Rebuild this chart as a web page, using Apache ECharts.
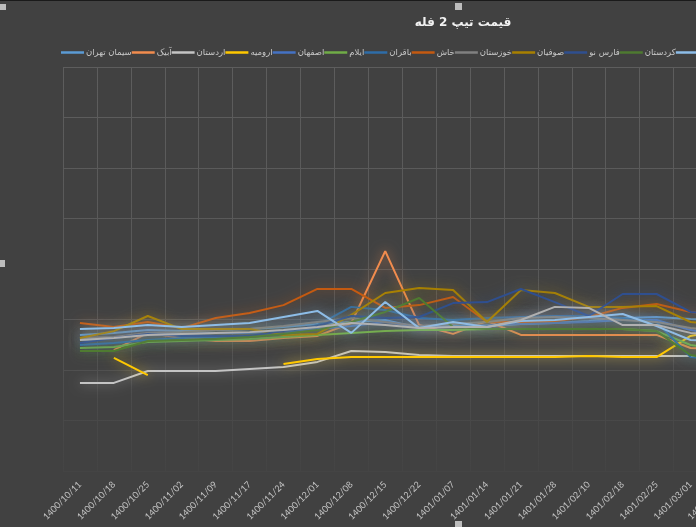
<!DOCTYPE html>
<html><head><meta charset="utf-8">
<script src="https://cdn.jsdelivr.net/npm/echarts@6.0.0/dist/echarts.min.js"></script>
<style>html,body{margin:0;padding:0;background:#414141;overflow:hidden}#c{width:696px;height:527px}</style>
</head><body><div id="c"></div><script>
const categories = ['1400/10/11','1400/10/18','1400/10/25','1400/11/02','1400/11/09','1400/11/17','1400/11/24','1400/12/01','1400/12/08','1400/12/15','1400/12/22','1401/01/07','1401/01/14','1401/01/21','1401/01/28','1401/02/10','1401/02/18','1401/02/25','1401/03/01','1401/03/08'];
const tehran    = [539,547,558,554,558,562,570,582,590,598,566,574,574,582,586,594,606,610,602,598];
const abyek     = [null,479,547,527,515,515,527,535,586,871,578,543,594,539,539,539,539,539,487,479];
const ardestan  = [349,349,396,396,396,404,412,432,475,471,459,455,455,455,455,455,455,455,455,455];
const urmia     = [null,448,380,null,null,null,424,444,451,451,451,451,451,451,451,455,451,451,535,558];
const isfahan   = [519,527,543,543,547,547,554,562,574,590,570,570,578,582,586,590,598,598,558,539];
const ilam      = [487,491,511,515,519,523,531,539,547,554,558,558,562,562,562,562,562,554,499,479];
const bagheran  = [499,507,519,527,531,535,543,578,650,638,606,598,606,610,614,614,606,590,451,440];
const khash     = [586,570,590,566,606,626,657,721,721,646,657,689,590,590,594,610,646,661,630,618];
const khuzestan = [527,531,547,550,558,562,574,590,606,590,574,582,590,606,610,606,598,590,566,558];
const sufian    = [527,554,614,562,562,562,539,543,618,705,725,717,590,717,705,650,650,653,590,578];
const farsNo    = [507,527,543,535,535,535,554,574,614,606,610,665,669,721,669,614,701,701,630,618];
const kurdistan = [475,475,515,519,523,531,543,558,590,630,685,570,562,562,562,562,562,554,459,440];
const series13  = [562,566,578,570,578,586,610,634,547,669,566,590,570,594,598,610,622,574,519,511];
const series14  = [519,527,539,543,547,550,558,570,586,578,566,570,570,598,650,646,578,578,547,535];

const seriesDefs = [
  ['سیمان تهران', tehran, '#5B9BD5'],
  ['آبیک', abyek, '#F28C4E'],
  ['اردستان', ardestan, '#C4C4C4'],
  ['ارومیه', urmia, '#FFC800'],
  ['اصفهان', isfahan, '#4472C4'],
  ['ایلام', ilam, '#70AD47'],
  ['باقران', bagheran, '#2E6DA8'],
  ['خاش', khash, '#C55A11'],
  ['خوزستان', khuzestan, '#808080'],
  ['صوفیان', sufian, '#A88000'],
  ['فارس نو', farsNo, '#2F4F8F'],
  ['کردستان', kurdistan, '#4E7A30'],
  ['سری ۱۳', series13, '#8DBDE8'],
  ['سری ۱۴', series14, '#B0B0B0']
];
function rgba(hex, a){const n=parseInt(hex.slice(1),16);return 'rgba('+(n>>16&255)+','+(n>>8&255)+','+(n&255)+','+a+')';}

const chart = echarts.init(document.getElementById('c'), null, {renderer:'canvas'});
const gridGrad = new echarts.graphic.LinearGradient(0,67,0,471,[
  {offset:0,color:'#5d5d5d'},{offset:0.6,color:'#575757'},{offset:0.9,color:'#474747'},{offset:1,color:'#444444'}], true);
chart.setOption({
  backgroundColor:'#414141',
  animation:false,
  title:{text:'قیمت تیپ 2 فله', left:458, top:12, textAlign:'center',
    textStyle:{color:'#f2f2f2', fontSize:12, fontWeight:'bold', fontFamily:'DejaVu Sans'}},
  legend:{data:seriesDefs.slice(0,13).map(d=>d[0]), left:56, top:43, width:1200, itemGap:0,
    itemWidth:23, itemHeight:2.5, icon:'rect',
    itemStyle:{shadowBlur:0},
    textStyle:{color:'#c8c8c8', fontSize:8.5, fontFamily:'DejaVu Sans', padding:[0,0,0,-3]}},
  grid:{left:63, top:67, width:678.4, height:404, outerBoundsMode:'none', containLabel:false},
  xAxis:{type:'category', data:categories, boundaryGap:true,
    axisLine:{show:false}, axisTick:{show:false},
    splitLine:{show:true, lineStyle:{color:gridGrad, width:1}},
    axisLabel:{rotate:45, color:'#c4c4c4', fontSize:9, fontFamily:'Lato', margin:12, interval:0}},
  yAxis:{type:'value', min:0, max:1600, interval:200,
    axisLabel:{show:false}, axisLine:{show:false}, axisTick:{show:false},
    splitLine:{lineStyle:{color:gridGrad, width:1}}},
  series: seriesDefs.map(d=>({
    name:d[0], type:'line', data:d[1], symbol:'none', smooth:false, connectNulls:false,
    color:d[2],
    lineStyle:{width:2, color:d[2], shadowBlur:12, shadowColor:rgba(d[2],0.7)}
  })),
  graphic:[
    {type:'rect', shape:{x:0,y:0,width:696,height:1}, style:{fill:'#1a1a1a'}},
    {type:'rect', shape:{x:0,y:4,width:6,height:6}, style:{fill:'#bdbdbd'}},
    {type:'rect', shape:{x:455,y:3,width:7,height:7}, style:{fill:'#bdbdbd'}},
    {type:'rect', shape:{x:0,y:260,width:5,height:7}, style:{fill:'#bdbdbd'}},
    {type:'rect', shape:{x:455,y:521,width:7,height:6}, style:{fill:'#bdbdbd'}}
  ]
});
</script></body></html>
